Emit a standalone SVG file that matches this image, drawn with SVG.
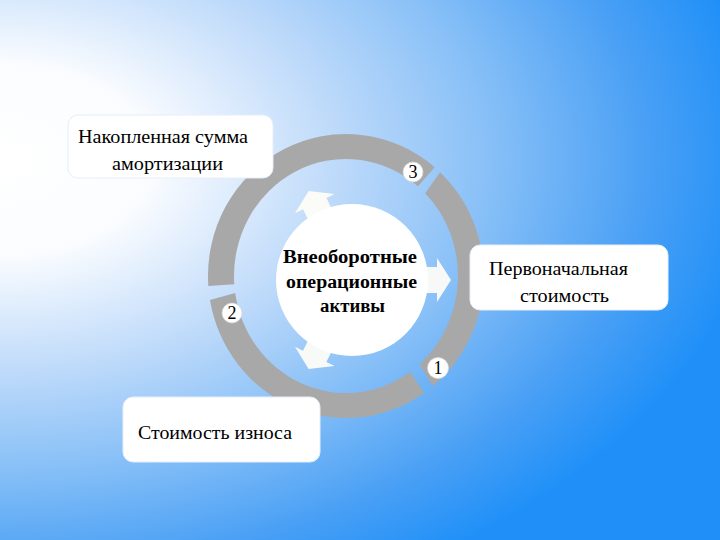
<svg xmlns="http://www.w3.org/2000/svg" xmlns:xlink="http://www.w3.org/1999/xlink" width="720" height="540" viewBox="0 0 720 540">
  <defs>
    <radialGradient id="bg" gradientUnits="userSpaceOnUse" cx="0" cy="0" r="1" gradientTransform="translate(0 160) scale(760 480)">
      <stop offset="0" stop-color="#ffffff"/>
      <stop offset="0.2" stop-color="#fafcff"/>
      <stop offset="0.45" stop-color="#bcd9fa"/>
      <stop offset="0.65" stop-color="#86bff7"/>
      <stop offset="0.85" stop-color="#4aa0f5"/>
      <stop offset="1" stop-color="#2090f8"/>
    </radialGradient>
    <path id="arrow" d="M412,267 L437,267 L437,258 L451,280 L437,302 L437,293 L412,293 Z"/>
    <style>
      .seg { fill: #a8a8a8; }
      .arr { fill: #fffef6; opacity: 0.92; }
      .box { fill: #ffffff; stroke: #e6eef9; stroke-width: 1; }
      .dot { fill: #ffffff; stroke: #d8d8d8; stroke-width: 0.8; }
    </style>
  </defs>

  <rect x="0" y="0" width="720" height="540" fill="url(#bg)"/>

  <g id="connectors">
    <path id="seg-top" class="seg" d="M208.34,285.91 A138,142 0 0 1 434.70,167.22 L417.99,186.37 A112,117 0 0 0 234.27,284.16 Z"/>
    <path id="seg-right" class="seg" d="M440.12,172.15 A138,142 0 0 1 432.85,386.36 L419.48,364.30 A112,117 0 0 0 425.20,193.27 Z"/>
    <path id="seg-bottom" class="seg" d="M424.16,393.03 A138,142 0 0 1 209.97,299.93 L235.20,293.09 A112,117 0 0 0 410.24,371.84 Z"/>
    <use xlink:href="#arrow" class="arr"/>
    <use xlink:href="#arrow" class="arr" transform="rotate(116 352 280)"/>
    <use xlink:href="#arrow" class="arr" transform="rotate(-116 352 280)"/>
  </g>

  <g id="node-center" font-family="'Liberation Serif', 'DejaVu Serif', 'Times New Roman', serif" font-size="18" font-weight="bold" fill="#000000">
    <circle cx="352" cy="280" r="76" fill="#ffffff"/>
    <text x="283" y="263" textLength="134" lengthAdjust="spacingAndGlyphs">Внеоборотные</text>
    <text x="286" y="288" textLength="131" lengthAdjust="spacingAndGlyphs">операционные</text>
    <text x="320" y="312" textLength="65" lengthAdjust="spacingAndGlyphs">активы</text>
  </g>

  <g id="node-num3" font-family="'Liberation Serif', 'DejaVu Serif', 'Times New Roman', serif" font-size="18" text-anchor="middle" fill="#000000">
    <circle class="dot" cx="413" cy="172" r="10"/>
    <text x="413" y="178">3</text>
  </g>
  <g id="node-num2" font-family="'Liberation Serif', 'DejaVu Serif', 'Times New Roman', serif" font-size="18" text-anchor="middle" fill="#000000">
    <circle class="dot" cx="232" cy="313" r="10"/>
    <text x="232" y="319">2</text>
  </g>
  <g id="node-num1" font-family="'Liberation Serif', 'DejaVu Serif', 'Times New Roman', serif" font-size="18" text-anchor="middle" fill="#000000">
    <circle class="dot" cx="438" cy="368" r="10.5"/>
    <text x="438" y="374">1</text>
  </g>

  <g id="node-amort" font-family="'Liberation Serif', 'DejaVu Serif', 'Times New Roman', serif" font-size="18" fill="#000000">
    <rect class="box" x="68" y="115" width="205" height="63" rx="10"/>
    <text x="78" y="143" textLength="170" lengthAdjust="spacingAndGlyphs">Накопленная сумма</text>
    <text x="112" y="170" textLength="111" lengthAdjust="spacingAndGlyphs">амортизации</text>
  </g>

  <g id="node-initial" font-family="'Liberation Serif', 'DejaVu Serif', 'Times New Roman', serif" font-size="18" fill="#000000">
    <rect class="box" x="470" y="245" width="198" height="65" rx="10"/>
    <text x="489" y="275" textLength="139" lengthAdjust="spacingAndGlyphs">Первоначальная</text>
    <text x="520" y="302" textLength="89" lengthAdjust="spacingAndGlyphs">стоимость</text>
  </g>

  <g id="node-wear" font-family="'Liberation Serif', 'DejaVu Serif', 'Times New Roman', serif" font-size="18" fill="#000000">
    <rect class="box" x="123" y="397" width="197" height="65" rx="10"/>
    <text x="138" y="439" textLength="154" lengthAdjust="spacingAndGlyphs">Стоимость износа</text>
  </g>
</svg>
